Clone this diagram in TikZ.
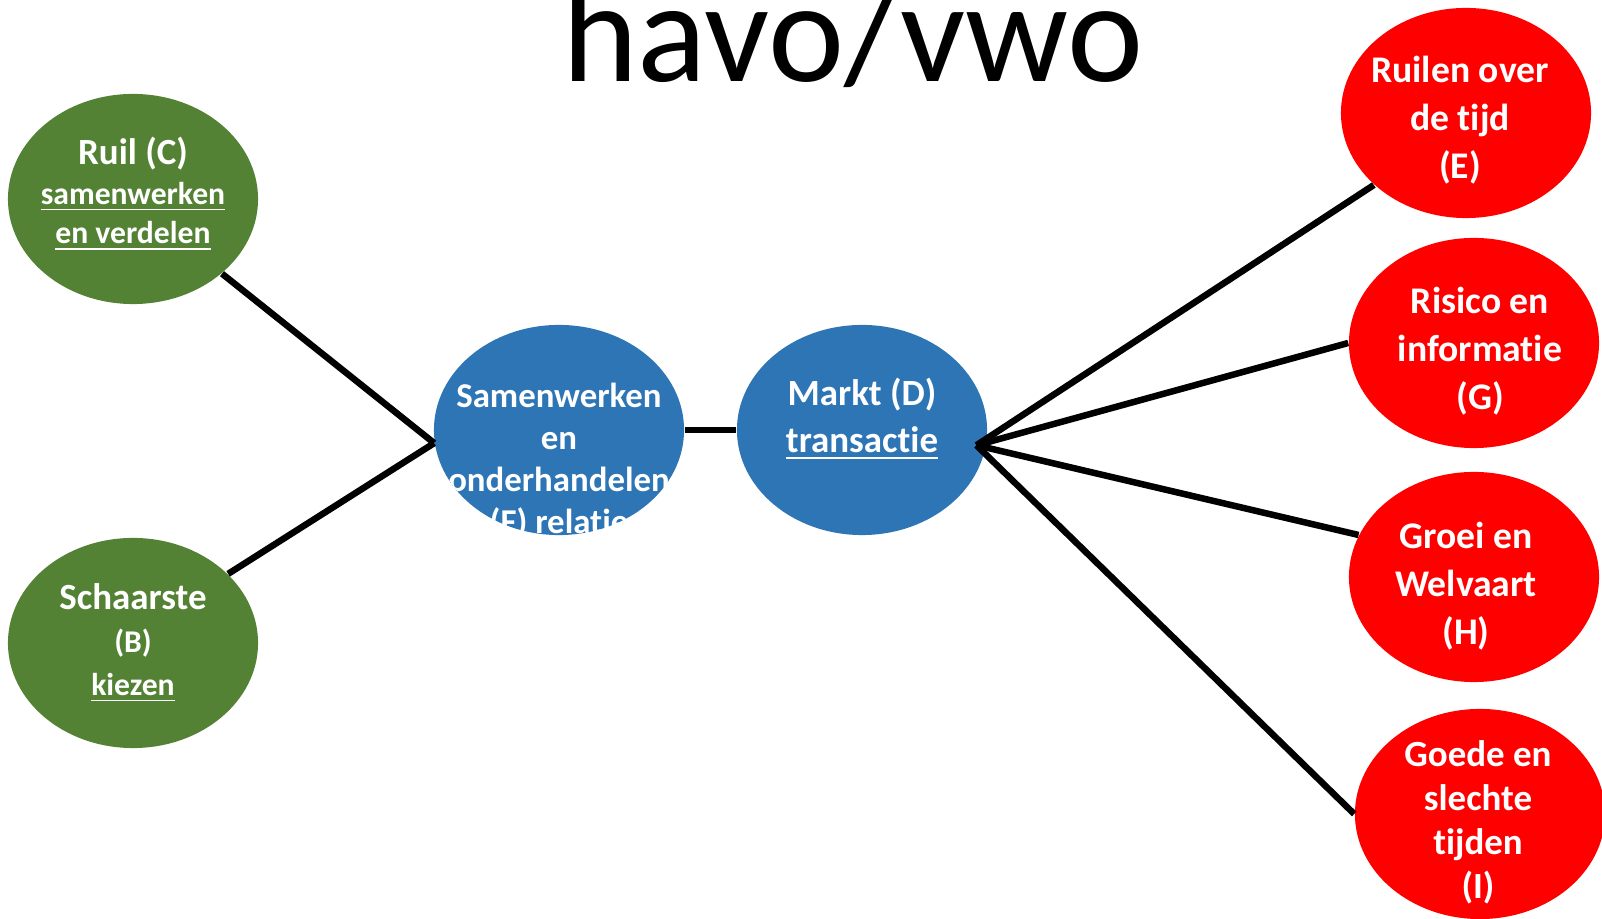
\documentclass[tikz,border=0pt]{standalone}
\usepackage{fontspec}
\setmainfont{Carlito}[Ligatures=NoCommon]
\usetikzlibrary{shapes.geometric}
\definecolor{ruilgreen}{HTML}{548235}
\definecolor{marktblue}{HTML}{2E75B6}
\definecolor{domeinred}{HTML}{FF0000}
\pgfmathsetmacro{\bubw}{2.5cm}
\pgfmathsetmacro{\bubh}{2.1cm}
\newcommand{\onderstreep}[1]{\underline{#1}}
\tikzset{
  bubble/.style={ellipse, inner sep=0pt, minimum width=\bubw, minimum height=\bubh},
  link/.style={line width=0.065cm, black},
  bubtext/.style={text=white, align=center, inner sep=0pt},
}

\begin{document}
\begin{tikzpicture}[x=0.01cm, y=-0.01cm]
    \useasboundingbox (0,0) rectangle (1602,919);
    % title
    \node[font=\fontsize{41}{49}\selectfont, anchor=base] (title) at (853,82) {havo/vwo};
    % define bubbles
    % green: left column
    \node[bubble, fill=ruilgreen] (ruil) at (133,199) {};
    \node[bubble, fill=ruilgreen] (schaarste) at (133,643) {};
    % blue: middle
    \node[bubble, fill=marktblue] (samen) at (559,430) {};
    \node[bubble, fill=marktblue] (markt) at (862,430) {};
    % red: right column
    \node[bubble, fill=domeinred] (ruilen) at (1466,113) {};
    \node[bubble, fill=domeinred] (risico) at (1474,343) {};
    \node[bubble, fill=domeinred] (groei) at (1474,577) {};
    \node[bubble, fill=domeinred] (goede) at (1480,814) {};
    % draw connections
    \coordinate (hub) at ([xshift=-0.1cm]markt.-7);
    \draw[link] (ruil.-40) -- (samen.186);
    \draw[link] (schaarste.36) -- (samen.186);
    \draw[link] (samen.east) -- (markt.west);
    \draw[link] (hub) -- (ruilen.218);
    \draw[link] (hub) -- (risico.west);
    \draw[link] (hub) -- (groei.160);
    \draw[link] (hub) -- (goede.west);
    % add labels
    \node[bubtext, font=\bfseries\fontsize{9}{11.3}\selectfont] (ruiltxt) at (133,194)
        {{\fontsize{10.5}{11.3}\selectfont Ruil (C)}\\\onderstreep{samenwerken}\\\onderstreep{en verdelen}};
    \node[bubtext, font=\bfseries\fontsize{9}{12.2}\selectfont] (schaarstetxt) at (133,643)
        {{\fontsize{10.5}{12.2}\selectfont Schaarste}\\(B)\\\onderstreep{kiezen}};
    \begin{scope}
        \clip (samen.center) ellipse [x radius=1.25cm, y radius=1.05cm];
        \node[bubtext, font=\bfseries\fontsize{9.9}{12}\selectfont] (samentxt) at (559,461)
            {Samenwerken\\en\\onderhandelen\\(F) relatie};
    \end{scope}
    \node[bubtext, font=\bfseries\fontsize{10.5}{13.6}\selectfont] (markttxt) at (862,419)
        {Markt (D)\\\onderstreep{transactie}};
    \node[bubtext, font=\bfseries\fontsize{10.7}{13.6}\selectfont] (ruilentxt) at (1460,120)
        {Ruilen over\\de tijd\\(E)};
    \node[bubtext, font=\bfseries\fontsize{10.7}{13.6}\selectfont] (risicotxt) at (1480,351)
        {Risico en\\informatie\\(G)};
    \node[bubtext, font=\bfseries\fontsize{10.7}{13.6}\selectfont] (groeitxt) at (1466,586)
        {Groei en\\Welvaart\\(H)};
    \node[bubtext, font=\bfseries\fontsize{10.5}{12.5}\selectfont] (goedetxt) at (1478,822)
        {Goede en\\slechte\\tijden\\(I)};
\end{tikzpicture}
\end{document}
